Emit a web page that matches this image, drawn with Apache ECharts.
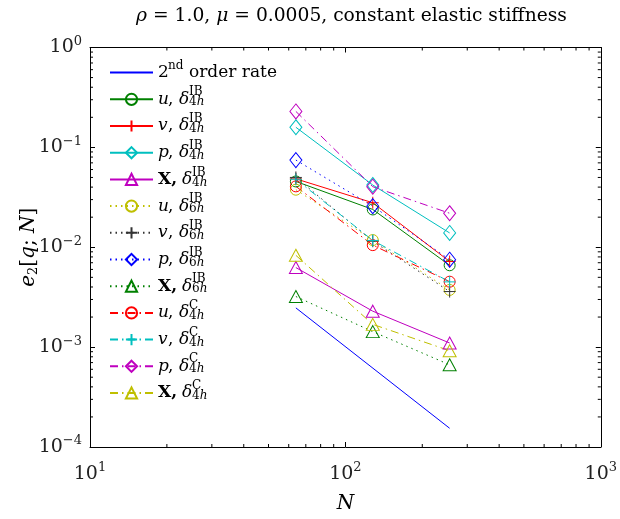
<!DOCTYPE html>
<html>
<head>
<meta charset="utf-8">
<script src="https://cdn.jsdelivr.net/npm/echarts@6/dist/echarts.min.js"></script>
<style>html,body{margin:0;padding:0;background:#fff}#chart{width:620px;height:519px}</style>
</head>
<body>
<div id="chart"></div>
<script>
/* convergence plot, log-log */
var N = [64, 128, 256];
var rateN = [64, 256];
var rate2 = [0.00247, 0.000154];

var uIB4 = [0.0456, 0.0239, 0.0066];
var vIB4 = [0.0484, 0.0279, 0.0072];
var pIB4 = [0.159, 0.042, 0.0139];
var XIB4 = [0.00626, 0.00229, 0.0011];

var uIB6 = [0.0377, 0.0118, 0.00374];
var vIB6 = [0.05, 0.0115, 0.0036];
var pIB6 = [0.0746, 0.0258, 0.0075];
var XIB6 = [0.00321, 0.00143, 0.000665];

var uC4 = [0.0407, 0.0105, 0.00452];
var vC4 = [0.048, 0.0117, 0.0045];
var pC4 = [0.229, 0.0404, 0.0219];
var XC4 = [0.0083, 0.00169, 0.00092];

var xTicks = [10, 100, 1000];
var xTickExp = ['1', '2', '3'];
var yTicks = [0.0001, 0.001, 0.01, 0.1, 1];
var yTickExp = ['\u22124', '\u22123', '\u22122', '\u22121', '0'];

var FONT = '"DejaVu Serif", "Liberation Serif", serif';

// minor ticks 2..9 per decade
var xMinor = [], yMinor = [];
[10, 100].forEach(function(d) { for (var k = 2; k <= 9; k++) xMinor.push(k * d); });
[0.0001, 0.001, 0.01, 0.1].forEach(function(d) { for (var k = 2; k <= 9; k++) yMinor.push(+(k * d).toPrecision(3)); });

function pairs(xs, ys) {
	var out = [];
	for (var i = 0; i < xs.length; i++) out.push([xs[i], ys[i]]);
	return out;
}

var PLUS = 'path://M5,0L5,10M0,5L10,5';
var DOT = [1.5, 4];
var DASHDOT = [8, 4, 1.5, 4];

function mk(name, ys, color, symbol, size, dash) {
	return {
		name: name,
		type: 'line',
		data: pairs(N, ys),
		symbol: symbol,
		symbolSize: size,
		lineStyle: { color: color, width: 1, type: dash },
		itemStyle: { color: 'rgba(0,0,0,0)', borderColor: color, borderWidth: 1 },
		emphasis: { disabled: true },
		silent: true
	};
}

var series = [
	{
		name: 'rate',
		type: 'line',
		data: pairs(rateN, rate2),
		symbol: 'none',
		lineStyle: { color: '#0000ff', width: 1 },
		itemStyle: { color: 'rgba(0,0,0,0)', borderWidth: 0 },
		emphasis: { disabled: true },
		silent: true
	},
	mk('uIB4', uIB4, '#008000', 'circle', 11, 'solid'),
	mk('vIB4', vIB4, '#ff0000', PLUS, 12, 'solid'),
	mk('pIB4', pIB4, '#00bfbf', 'diamond', [12, 15], 'solid'),
	mk('XIB4', XIB4, '#bf00bf', 'triangle', [13, 12], 'solid'),
	mk('uIB6', uIB6, '#bfbf00', 'circle', 11, DOT),
	mk('vIB6', vIB6, '#333333', PLUS, 12, DOT),
	mk('pIB6', pIB6, '#0000ff', 'diamond', [12, 15], DOT),
	mk('XIB6', XIB6, '#008000', 'triangle', [13, 12], DOT),
	mk('uC4', uC4, '#ff0000', 'circle', 11, DASHDOT),
	mk('vC4', vC4, '#00bfbf', PLUS, 12, DASHDOT),
	mk('pC4', pC4, '#bf00bf', 'diamond', [12, 15], DASHDOT),
	mk('XC4', XC4, '#bfbf00', 'triangle', [13, 12], DASHDOT)
];

function tickLine(x1, y1, x2, y2) {
	return { type: 'line', shape: { x1: x1, y1: y1, x2: x2, y2: y2 }, style: { stroke: '#000', lineWidth: 1 } };
}

series.push({
	type: 'custom',
	silent: true,
	data: xMinor.map(function(v) { return [v, 1]; }),
	renderItem: function(params, api) {
		var v = api.value(0);
		var b = api.coord([v, 0.0001]), t = api.coord([v, 1]);
		return { type: 'group', children: [tickLine(b[0], b[1], b[0], b[1] - 3), tickLine(t[0], t[1], t[0], t[1] + 3)] };
	}
});
series.push({
	type: 'custom',
	silent: true,
	data: yMinor.map(function(v) { return [10, v]; }),
	renderItem: function(params, api) {
		var v = api.value(1);
		var l = api.coord([10, v]), r = api.coord([1000, v]);
		return { type: 'group', children: [tickLine(l[0], l[1], l[0] + 3, l[1]), tickLine(r[0], r[1], r[0] - 3, r[1])] };
	}
});

// legend labels: line 1 holds superscripts, line 2 the text and subscripts
var vars = { u: '{it|u}', v: '{it|v}', p: '{it|p}', X: '{bx|X,}' };
function lab(v, sup, sub) {
	var g = v === 'X' ? 'g2' : 'g1';
	var cm = v === 'X' ? '' : '{cm|,}';
	return '{' + g + '| }{sup|' + sup + '}\n' + vars[v] + cm + '{it2|\u03b4}{sub|' + sub + '}{subi|h}';
}
var legendText = {
	rate: '{gtwo| }{sup|nd}\n{two|2}{gnd| }{t|order rate}',
	uIB4: lab('u', 'IB', '4'), vIB4: lab('v', 'IB', '4'), pIB4: lab('p', 'IB', '4'), XIB4: lab('X', 'IB', '4'),
	uIB6: lab('u', 'IB', '6'), vIB6: lab('v', 'IB', '6'), pIB6: lab('p', 'IB', '6'), XIB6: lab('X', 'IB', '6'),
	uC4: lab('u', 'C', '4'), vC4: lab('v', 'C', '4'), pC4: lab('p', 'C', '4'), XC4: lab('X', 'C', '4')
};

// main text line: lineHeight 14, lifted 2px; scripts line above: lineHeight 4
var base = { fontFamily: FONT, fontSize: 17, color: '#000', lineHeight: 14, padding: [0, 0, 4, 0] };
function ext(o) { var r = {}; for (var k in base) r[k] = base[k]; for (var j in o) r[j] = o[j]; return r; }
var scr = { fontFamily: FONT, fontSize: 12, color: '#000' };
function sext(o) { var r = {}; for (var k in scr) r[k] = scr[k]; for (var j in o) r[j] = o[j]; return r; }

function expLabel(ticks, exps) {
	return function(val) {
		for (var i = 0; i < ticks.length; i++) {
			if (Math.abs(Math.log10(val / ticks[i])) < 1e-6) return '{b|10}{e|' + exps[i] + '}';
		}
		return '';
	};
}
var tickRich = {
	b: { fontFamily: FONT, fontSize: 19, color: '#222', lineHeight: 22 },
	e: { fontFamily: FONT, fontSize: 13, color: '#222', lineHeight: 22, padding: [0, 0, 12, 0] }
};

var chart = echarts.init(document.getElementById('chart'), null, { renderer: 'canvas' });
chart.setOption({
	animation: false,
	backgroundColor: '#fff',
	title: {
		text: '{i|\u03c1} = 1.0, {i|\u03bc} = 0.0005, constant elastic stiffness',
		left: 346.5,
		textAlign: 'center',
		top: 2,
		textStyle: {
			fontFamily: FONT, fontSize: 18.7, fontWeight: 'normal', color: '#000',
			rich: { i: { fontFamily: FONT, fontSize: 18.7, fontStyle: 'italic', color: '#000' } }
		}
	},
	grid: { left: 90, top: 47.5, right: 17, bottom: 66.3, containLabel: false },
	legend: {
		orient: 'vertical',
		left: 109,
		top: 59.6,
		padding: 0,
		itemWidth: 43,
		itemHeight: 14,
		itemGap: 1.2,
		selectedMode: false,
		data: series.filter(function(s) { return s.type === 'line'; }).map(function(s) { return s.name; }),
		formatter: function(name) { return legendText[name]; },
		textStyle: {
			fontFamily: FONT,
			fontSize: 17,
			color: '#000',
			height: 18,
			rich: {
				it: ext({ fontStyle: 'italic', width: 10 }),
				bx: ext({ fontWeight: 'bold', width: 24 }),
				cm: ext({ width: 11 }),
				it2: ext({ fontStyle: 'italic', width: 10 }),
				g1: sext({ width: 31, lineHeight: 4 }),
				g2: sext({ width: 34, lineHeight: 4 }),
				sup: sext({ lineHeight: 4 }),
				sub: sext({ lineHeight: 14, padding: [2, 0, 0, 0] }),
				subi: sext({ lineHeight: 14, fontStyle: 'italic', padding: [2, 0, 0, 0] }),
				two: ext({ width: 10 }),
				gtwo: sext({ width: 10, lineHeight: 4 }),
				gnd: ext({ width: 21 }),
				t: ext({})
			}
		}
	},
	xAxis: [
		{
			type: 'log', min: 10, max: 1000, logBase: 10,
			name: 'N', nameLocation: 'middle', nameGap: 47, nameMoveOverlap: false,
			nameTextStyle: { fontFamily: FONT, fontSize: 20, fontStyle: 'italic', color: '#000' },
			axisLine: { lineStyle: { color: '#000', width: 1 } },
			axisTick: { inside: true, length: 5, lineStyle: { color: '#000' } },
			axisLabel: { formatter: expLabel(xTicks, xTickExp), margin: 16, rich: tickRich },
			splitLine: { show: false }
		},
		{
			type: 'log', min: 10, max: 1000, position: 'top',
			axisLine: { lineStyle: { color: '#000', width: 1 } },
			axisTick: { inside: true, length: 5, lineStyle: { color: '#000' } },
			axisLabel: { show: false },
			splitLine: { show: false }
		}
	],
	yAxis: [
		{
			type: 'log', min: 0.0001, max: 1, logBase: 10,
			name: '{i|e}{s|2}{n|[}{i|q}{n|; }{i|N}{n|]}', nameLocation: 'middle', nameGap: 49, nameRotate: 90,
			nameMoveOverlap: false,
			nameTextStyle: {
				fontFamily: FONT, fontSize: 20, color: '#000',
				rich: {
					i: { fontFamily: FONT, fontSize: 20, fontStyle: 'italic', color: '#000', lineHeight: 24 },
					n: { fontFamily: FONT, fontSize: 20, color: '#000', lineHeight: 24 },
					s: { fontFamily: FONT, fontSize: 13, color: '#000', lineHeight: 24, padding: [10, 0, 0, 0] }
				}
			},
			axisLine: { lineStyle: { color: '#000', width: 1 } },
			axisTick: { inside: true, length: 5, lineStyle: { color: '#000' } },
			axisLabel: { formatter: expLabel(yTicks, yTickExp), margin: 8, rich: tickRich },
			splitLine: { show: false }
		},
		{
			type: 'log', min: 0.0001, max: 1, position: 'right',
			axisLine: { lineStyle: { color: '#000', width: 1 } },
			axisTick: { inside: true, length: 5, lineStyle: { color: '#000' } },
			axisLabel: { show: false },
			splitLine: { show: false }
		}
	],
	series: series
});
</script>
</body>
</html>
